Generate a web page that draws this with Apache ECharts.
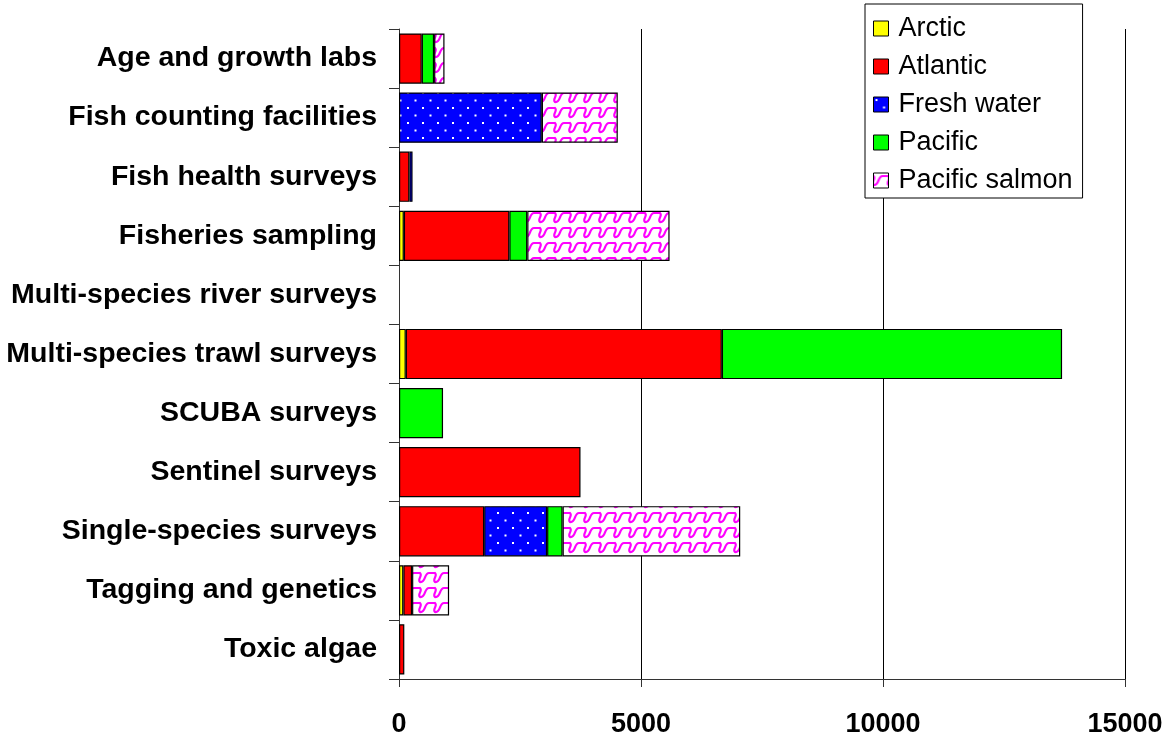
<!DOCTYPE html>
<html>
<head>
<meta charset="utf-8">
<script src="https://cdn.jsdelivr.net/npm/echarts@6/dist/echarts.min.js"></script>
<style>
html,body{margin:0;padding:0;background:#fff;}
#chart{width:1171px;height:738px;}
</style>
</head>
<body>
<div id="chart"></div>
<script>
var categories = ['Age and growth labs','Fish counting facilities','Fish health surveys','Fisheries sampling','Multi-species river surveys','Multi-species trawl surveys','SCUBA surveys','Sentinel surveys','Single-species surveys','Tagging and genetics','Toxic algae'];
var seriesNames = ['Arctic','Atlantic','Fresh water','Pacific','Pacific salmon'];
var arctic        = [0,   0,    0,   100,  0, 140,   0,    0,    0,    90,  0];
var atlantic      = [470, 0,    215, 2180, 0, 6530,  0,    3750, 1760, 180, 110];
var freshWater    = [0,   2950, 65,  0,    0, 0,     0,    0,    1300, 0,   0];
var pacific       = [255, 0,    0,   370,  0, 7030,  910,  0,    320,  0,   0];
var pacificSalmon = [215, 1570, 0,   2940, 0, 0,     0,    0,    3670, 765, 0];
var xTicks = [0, 5000, 10000, 15000];

function dotPattern(){
  var c = document.createElement('canvas'); c.width = 15; c.height = 15;
  var g = c.getContext('2d');
  g.fillStyle = '#0000FF'; g.fillRect(0,0,15,15);
  g.fillStyle = '#ffffff';
  g.fillRect(2,2,2,2); g.fillRect(9.5,9.5,2,2);
  return c;
}
function salmonPattern(){
  var c = document.createElement('canvas'); c.width = 15; c.height = 15;
  var g = c.getContext('2d');
  g.fillStyle = '#ffffff'; g.fillRect(0,0,15,15);
  g.strokeStyle = '#FF00FF'; g.lineWidth = 2.2;
  g.lineCap = 'round';
  g.beginPath();
  g.moveTo(0,3); g.bezierCurveTo(3,6, -3,9, 0,12);
  g.stroke();
  g.beginPath();
  g.moveTo(15,3); g.bezierCurveTo(18,6, 12,9, 15,12);
  g.stroke();
  g.beginPath();
  g.moveTo(0,12); g.bezierCurveTo(6,13, 4,3, 9,3); g.lineTo(15,3);
  g.stroke();
  return c;
}

var colors = ['#FFFF00','#FF0000',{image: dotPattern(), repeat:'repeat'},'#00FF00',{image: salmonPattern(), repeat:'repeat'}];
var dataSets = [arctic, atlantic, freshWater, pacific, pacificSalmon];
var font = "'Liberation Sans', Arial, sans-serif";

var series = seriesNames.map(function(name, i){
  return {
    name: name,
    type: 'bar',
    stack: 'total',
    barCategoryGap: '15%',
    itemStyle: {color: colors[i], borderColor: '#000', borderWidth: 1.2},
    emphasis: {disabled: true},
    data: dataSets[i].map(function(v){ return v === 0 ? null : v; })
  };
});

var chart = echarts.init(document.getElementById('chart'));
chart.setOption({
  animation: false,
  backgroundColor: '#ffffff',
  grid: {left: 399, right: 46, top: 29, bottom: 59, outerBoundsMode: 'none'},
  legend: {
    data: seriesNames,
    icon: 'rect',
    orient: 'vertical',
    left: 865, top: 4,
    backgroundColor: '#ffffff',
    borderColor: '#000', borderWidth: 1,
    padding: [11, 10, 4, 8],
    itemWidth: 15, itemHeight: 15, itemGap: 11,
    itemStyle: {borderColor: '#000', borderWidth: 1},
    textStyle: {fontSize: 27, fontFamily: font, color: '#000', padding: [0, 0, 0, 5]}
  },
  xAxis: {
    type: 'value', min: xTicks[0], max: xTicks[xTicks.length-1], interval: xTicks[1]-xTicks[0],
    axisLine: {show: true, lineStyle: {color: '#333', width: 1}},
    axisTick: {show: true, length: 8, lineStyle: {color: '#333'}},
    splitLine: {show: true, lineStyle: {color: '#000', width: 1}},
    axisLabel: {fontSize: 27, fontWeight: 'bold', fontFamily: font, color: '#000', margin: 32,
      formatter: function(v){ return String(v); }}
  },
  yAxis: {
    type: 'category', data: categories, inverse: true,
    axisLine: {show: true, lineStyle: {color: '#333', width: 1}},
    axisTick: {show: true, length: 10, lineStyle: {color: '#333'}},
    splitLine: {show: false},
    axisLabel: {fontSize: 28.5, fontWeight: 'bold', fontFamily: font, color: '#000', margin: 22}
  },
  series: series
});
</script>
</body>
</html>
